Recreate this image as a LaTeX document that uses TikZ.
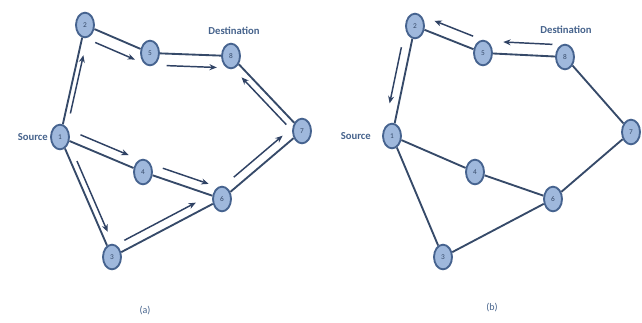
\documentclass[tikz,border=0pt]{standalone}
\usepackage{fontspec}
\setmainfont{Carlito}
\usetikzlibrary{calc,shapes.geometric,arrows.meta}

\definecolor{nodefill}{HTML}{9FB8DC}
\definecolor{nodeline}{HTML}{46638F}
\definecolor{edgecol}{HTML}{364A69}
\definecolor{arrcol}{HTML}{2F4264}
\definecolor{txtcol}{HTML}{46638C}

\tikzset{
  router/.style={ellipse, draw=nodeline, fill=nodefill, line width=1.4pt,
    minimum width=13.5pt, minimum height=18.5pt, inner sep=0pt,
    font=\fontsize{5.5}{6}\selectfont, text=edgecol},
  link/.style={draw=edgecol, line width=1.4pt},
  flow/.style={draw=arrcol, line width=1.1pt, -{Stealth[length=5.5pt,width=4.5pt]}},
  tag/.style={text=txtcol, font=\bfseries\fontsize{8}{9}\selectfont, inner sep=0pt},
  caption/.style={text=txtcol, font=\fontsize{7.5}{8}\selectfont, inner sep=0pt},
}

% #1 from, #2 to, #3 start fraction, #4 end fraction, #5 side angle, #6 offset
\newcommand\flowarrow[6]{%
  \draw[flow] ($(#1)!#3!(#2)!#6!#5:(#2)$) -- ($(#1)!#4!(#2)!#6!#5:(#2)$);}

\begin{document}
\begin{tikzpicture}[x=0.75pt, y=-0.75pt]
\useasboundingbox (0,0) rectangle (642,322);

% ---------- (a): flooding from the source ----------
\node[router] (a1) at (60,137) {1};
\node[router] (a2) at (85,25) {2};
\node[router] (a5) at (150,53) {5};
\node[router] (a8) at (231,56) {8};
\node[router] (a7) at (302,131) {7};
\node[router] (a4) at (143,172) {4};
\node[router] (a6) at (222,199) {6};
\node[router] (a3) at (112,257) {3};

\draw[link] (a1) -- (a2);
\draw[link] (a2) -- (a5);
\draw[link] (a5) -- (a8);
\draw[link] (a8) -- (a7);
\draw[link] (a1) -- (a4);
\draw[link] (a4) -- (a6);
\draw[link] (a6) -- (a7);
\draw[link] (a1) -- (a3);
\draw[link] (a3) -- (a6);

\flowarrow{a1}{a2}{0.22}{0.74}{-90}{3.75pt}
\flowarrow{a2}{a5}{0.23}{0.84}{-90}{9pt}
\flowarrow{a5}{a8}{0.21}{0.83}{-90}{9pt}
\flowarrow{a7}{a8}{0.15}{0.78}{90}{5.25pt}
\flowarrow{a1}{a4}{0.2}{0.78}{90}{7.5pt}
\flowarrow{a4}{a6}{0.21}{0.79}{90}{7.5pt}
\flowarrow{a6}{a7}{0.22}{0.83}{90}{6.75pt}
\flowarrow{a1}{a3}{0.22}{0.81}{90}{4.5pt}
\flowarrow{a3}{a6}{0.15}{0.8}{90}{6.75pt}

\node[tag, anchor=east] (srcA) at (48,137) {Source};
\node[tag] (dstA) at (234,31) {Destination};
\node[caption] (capA) at (145,311) {(a)};

% ---------- (b): reply along the reverse path ----------
\node[router] (b1) at (392,136) {1};
\node[router] (b2) at (415,26) {2};
\node[router] (b5) at (483,53) {5};
\node[router] (b8) at (565,57) {8};
\node[router] (b7) at (631,132) {7};
\node[router] (b4) at (475,172) {4};
\node[router] (b6) at (553,199) {6};
\node[router] (b3) at (443,257) {3};

\draw[link] (b1) -- (b2);
\draw[link] (b2) -- (b5);
\draw[link] (b5) -- (b8);
\draw[link] (b8) -- (b7);
\draw[link] (b1) -- (b4);
\draw[link] (b4) -- (b6);
\draw[link] (b6) -- (b7);
\draw[link] (b1) -- (b3);
\draw[link] (b3) -- (b6);

\flowarrow{b8}{b5}{0.16}{0.76}{-90}{9pt}
\flowarrow{b5}{b2}{0.21}{0.78}{-90}{9pt}
\flowarrow{b2}{b1}{0.21}{0.72}{-90}{6.75pt}

\node[tag, anchor=east] (srcB) at (371,136) {Source};
\node[tag] (dstB) at (566,30) {Destination};
\node[caption] (capB) at (492,308) {(b)};
\end{tikzpicture}
\end{document}
